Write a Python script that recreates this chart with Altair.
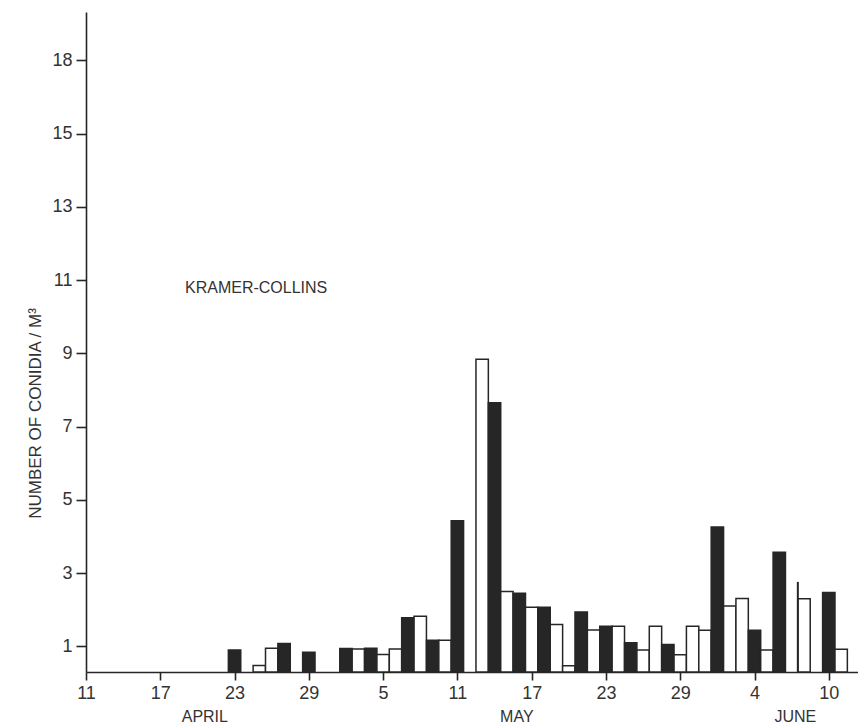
import altair as alt
import pandas as pd

# Day index counted from 11 April (0 = Apr 11, 20 = May 1, 51 = Jun 1)
bar_days = [12, 14, 15, 16, 18, 21, 22, 23, 24, 25, 26, 27, 28, 29, 30,
            32, 33, 34, 35, 36, 37, 38, 39, 40, 41, 42, 43, 44, 45, 46,
            47, 48, 49, 50, 51, 52, 53, 54, 55, 56, 58, 60, 61]
bar_values = [0.90, 0.48, 0.95, 1.08, 0.84, 0.94, 0.93, 0.95, 0.78, 0.93, 1.78, 1.82, 1.17, 1.17, 4.43,
              8.84, 7.65, 2.50, 2.45, 2.07, 2.07, 1.60, 0.47, 1.94, 1.45, 1.55, 1.55, 1.10, 0.90, 1.55,
              1.05, 0.77, 1.55, 1.44, 4.26, 2.10, 2.31, 1.44, 0.90, 3.57, 2.30, 2.47, 0.92]
bar_shade = ["dark", "light", "light", "dark", "dark", "dark", "light", "dark", "light", "light", "dark", "light", "dark", "light", "dark",
             "light", "dark", "light", "dark", "light", "dark", "light", "light", "dark", "light", "dark", "light", "dark", "light", "light",
             "dark", "light", "light", "light", "dark", "light", "light", "dark", "light", "dark", "light", "dark", "light"]

spike_day = [57.5]
spike_value = [2.76]

tick_days = [0, 6, 12, 18, 24, 30, 36, 42, 48, 54, 60]
tick_labels = ["11", "17", "23", "29", "5", "11", "17", "23", "29", "4", "10"]

y_ticks = [1, 3, 5, 7, 9, 11, 13, 15, 17]

month_names = ["APRIL", "MAY", "JUNE"]
month_pos = [9.6, 34.8, 57.3]

BASE = 0.3
YMAX = 18.32
XMAX = 62.36
W, H = 772, 660
INK = "#262626"
FONT = "Liberation Sans"

bars_df = pd.DataFrame({"day": bar_days, "value": bar_values, "shade": bar_shade})
spike_df = pd.DataFrame({"day": spike_day, "value": spike_value})
month_df = pd.DataFrame({"month": month_names, "pos": month_pos})

label_expr = "[" + ",".join("'%s'" % t for t in tick_labels) + "][round(datum.value/6)]"

xscale = alt.Scale(domain=[0, XMAX], nice=False, zero=False)
yscale = alt.Scale(domain=[BASE, YMAX], nice=False, zero=False)

xaxis = alt.Axis(values=tick_days, labelExpr=label_expr, title=None, grid=False,
                 tickSize=8, tickWidth=1.6, domainWidth=1.6, domainColor=INK, tickColor=INK,
                 labelFont=FONT, labelFontSize=18, labelColor="#333333", labelPadding=4,
                 labelFlush=False)
yaxis = alt.Axis(values=y_ticks, labelExpr="datum.value == 17 ? '18' : datum.label",
                 title="NUMBER OF CONIDIA / M³", grid=False,
                 tickSize=10, tickWidth=1.6, domainWidth=1.6, domainColor=INK, tickColor=INK,
                 labelFont=FONT, labelFontSize=18, labelColor="#333333", labelPadding=4,
                 titleFont=FONT, titleFontSize=17, titleFontWeight="normal", titleColor="#333333",
                 titleX=-51, titleY=401, titleAlign="center", titleBaseline="middle", titleAngle=-90)

bars = alt.Chart(bars_df).transform_calculate(
    x0="datum.day - 0.5", x1="datum.day + 0.5"
).mark_rect(stroke=INK, strokeWidth=1.5).encode(
    x=alt.X("x0:Q", scale=xscale, axis=xaxis),
    x2="x1:Q",
    y=alt.Y("value:Q", scale=yscale, axis=yaxis),
    y2=alt.datum(BASE),
    fill=alt.Fill("shade:N", scale=alt.Scale(domain=["dark", "light"], range=[INK, "#ffffff"]), legend=None),
)

spike = alt.Chart(spike_df).mark_rule(color=INK, strokeWidth=2).encode(
    x=alt.X("day:Q", scale=xscale),
    y=alt.Y("value:Q", scale=yscale),
    y2=alt.datum(BASE),
)

label = alt.Chart(pd.DataFrame({"t": ["KRAMER-COLLINS"]})).mark_text(
    align="left", baseline="middle", font=FONT, fontSize=16, color="#333333"
).encode(x=alt.datum(8.0), y=alt.datum(10.78), text="t:N")

months = alt.Chart(month_df).mark_text(
    align="center", baseline="middle", font=FONT, fontSize=16, color="#333333"
).encode(x=alt.X("pos:Q", scale=xscale), y=alt.value(705), text="month:N")

chart = alt.layer(bars, spike, label, months).properties(
    width=W, height=H,
    autosize=alt.AutoSizeParams(type="none"),
    padding={"left": 78, "top": 4, "right": 0, "bottom": 52},
    background="white",
).configure_view(stroke=None)

chart.save("out.html", embed_options={"renderer": "svg", "actions": False})
